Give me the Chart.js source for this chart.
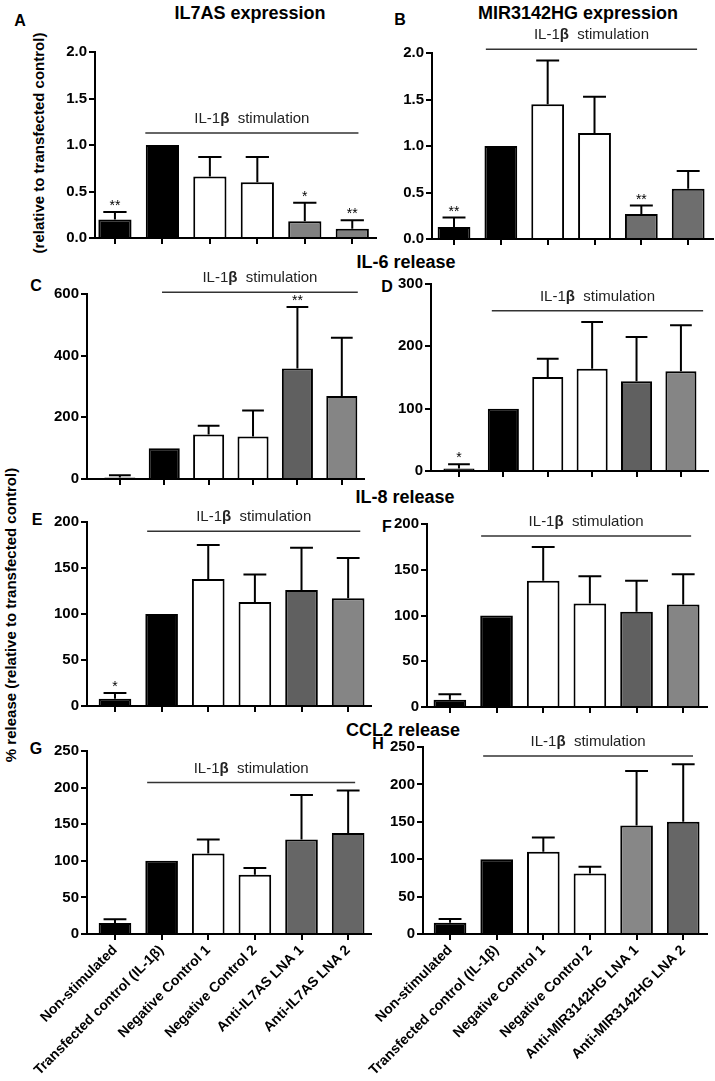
<!DOCTYPE html>
<html>
<head>
<meta charset="utf-8">
<script src="https://cdn.jsdelivr.net/npm/chart.js@4.4.1/dist/chart.umd.min.js"></script>
<style>
  body { margin: 0; background: #fff; width: 715px; height: 1081px; position: relative; overflow: hidden;
         font-family: 'Liberation Sans', Arial, Helvetica, sans-serif; }
  canvas { position: absolute; }
  .t { position: absolute; font-weight: bold; white-space: nowrap; color: #000;
       transform: translate(-50%, -50%); line-height: 1; }
  .rot { transform: translate(-50%, -50%) rotate(-90deg); }
</style>
</head>
<body>
<div class="t" style="left:250px;top:13px;font-size:18px">IL7AS expression</div>
<div class="t" style="left:578px;top:13px;font-size:18px">MIR3142HG expression</div>
<div class="t" style="left:406px;top:262px;font-size:18px">IL-6 release</div>
<div class="t" style="left:405px;top:497px;font-size:18px">IL-8 release</div>
<div class="t" style="left:403px;top:730px;font-size:18px">CCL2 release</div>

<div class="t" style="left:20px;top:21px;font-size:16px">A</div>
<div class="t" style="left:400px;top:20px;font-size:16px">B</div>
<div class="t" style="left:36px;top:286px;font-size:16px">C</div>
<div class="t" style="left:387px;top:287px;font-size:16px">D</div>
<div class="t" style="left:37px;top:520px;font-size:16px">E</div>
<div class="t" style="left:387px;top:527px;font-size:16px">F</div>
<div class="t" style="left:36px;top:749px;font-size:16px">G</div>
<div class="t" style="left:378px;top:744px;font-size:16px">H</div>

<div class="t rot" style="left:38px;top:143px;font-size:15px">(relative to transfected control)</div>
<div class="t rot" style="left:10px;top:615px;font-size:15px">% release (relative to transfected control)</div>

<script>
const fam = "'Liberation Sans', Arial, Helvetica, sans-serif";
Chart.defaults.font.family = fam;
Chart.defaults.color = '#000';

// categories
const groupsIL7AS = ['Non-stimulated', 'Transfected control (IL-1β)', 'Negative Control 1', 'Negative Control 2', 'Anti-IL7AS LNA 1', 'Anti-IL7AS LNA 2'];
const groupsMIR = ['Non-stimulated', 'Transfected control (IL-1β)', 'Negative Control 1', 'Negative Control 2', 'Anti-MIR3142HG LNA 1', 'Anti-MIR3142HG LNA 2'];

// y ticks
const ticksExpr = [0, 0.5, 1.0, 1.5, 2.0];
const ticksC = [0, 200, 400, 600];
const ticksD = [0, 100, 200, 300];
const ticksIL8 = [0, 50, 100, 150, 200];
const ticksCCL2 = [0, 50, 100, 150, 200, 250];

// A - IL7AS expression
const meanA = [0.20, 1.00, 0.66, 0.60, 0.18, 0.10];
const errA = [0.28, null, 0.87, 0.87, 0.38, 0.19];
const starsA = ['**', '', '', '', '*', '**'];
// B - MIR3142HG expression
const meanB = [0.13, 1.00, 1.45, 1.14, 0.27, 0.54];
const errB = [0.23, null, 1.92, 1.53, 0.36, 0.73];
const starsB = ['**', '', '', '', '**', ''];
// C - IL-6 (IL7AS)
const meanC = [5, 100, 144, 138, 358, 269];
const errC = [12, null, 173, 222, 558, 458];
const starsC = ['', '', '', '', '**', ''];
// D - IL-6 (MIR3142HG)
const meanD = [4, 100, 151, 164, 144, 160];
const errD = [11, null, 180, 239, 215, 234];
const starsD = ['*', '', '', '', '', ''];
// E - IL-8 (IL7AS)
const meanE = [8, 100, 138, 113, 126, 117];
const errE = [14, null, 175, 143, 172, 161];
const starsE = ['*', '', '', '', '', ''];
// F - IL-8 (MIR3142HG)
const meanF = [8, 100, 138, 113, 104, 112];
const errF = [14, null, 175, 143, 138, 145];
const starsF = ['', '', '', '', '', ''];
// G - CCL2 (IL7AS)
const meanG = [15, 100, 110, 81, 129, 138];
const errG = [20, null, 129, 90, 190, 196];
const starsG = ['', '', '', '', '', ''];
// H - CCL2 (MIR3142HG)
const meanH = [15, 100, 110, 81, 145, 150];
const errH = [20, null, 129, 90, 218, 227];
const starsH = ['', '', '', '', '', ''];

// IL-1b stimulation bar: [from index, to index, level]
const stimA = [0.64, 5.13, 1.13];
const stimB = [0.68, 5.19, 2.04];
const stimC = [0.95, 5.36, 606];
const stimD = [0.74, 5.5, 257];
const stimE = [0.69, 5.26, 190];
const stimF = [0.67, 5.17, 187];
const stimG = [0.69, 5.15, 207];
const stimH = [0.71, 5.21, 238];

const BLK = '#000000', WHT = '#ffffff', DARK = '#606060', MID = '#858585';

const panels = [
  { id: 'A', labels: groupsIL7AS, means: meanA, errors: errA, stars: starsA, stim: stimA, yTicks: ticksExpr, dec: 1,
    colors: [BLK, BLK, WHT, WHT, '#808080', '#808080'], xMin: -0.42, xMax: 5.5,
    box: { L: 0, T: 40, W: 385, H: 210, axisX: 95, top: 52, bottom: 238, right: 376 }, showLabels: false },
  { id: 'B', labels: groupsMIR, means: meanB, errors: errB, stars: starsB, stim: stimB, yTicks: ticksExpr, dec: 1,
    colors: [BLK, BLK, WHT, WHT, '#6e6e6e', '#6e6e6e'], xMin: -0.47, xMax: 5.53,
    box: { L: 388, T: 22, W: 327, H: 228, axisX: 432, top: 53, bottom: 241, right: 713 }, showLabels: false },
  { id: 'C', labels: groupsIL7AS, means: meanC, errors: errC, stars: starsC, stim: stimC, yTicks: ticksC, dec: 0,
    colors: [BLK, BLK, WHT, WHT, DARK, MID], xMin: -0.74, xMax: 5.5,
    box: { L: 0, T: 265, W: 385, H: 225, axisX: 87, top: 294, bottom: 481, right: 364 }, showLabels: false },
  { id: 'D', labels: groupsMIR, means: meanD, errors: errD, stars: starsD, stim: stimD, yTicks: ticksD, dec: 0,
    colors: [BLK, BLK, WHT, WHT, DARK, MID], xMin: -0.63, xMax: 5.61,
    box: { L: 392, T: 268, W: 323, H: 222, axisX: 431, top: 284, bottom: 471, right: 708 }, showLabels: false },
  { id: 'E', labels: groupsIL7AS, means: meanE, errors: errE, stars: starsE, stim: stimE, yTicks: ticksIL8, dec: 0,
    colors: [BLK, BLK, WHT, WHT, DARK, MID], xMin: -0.6, xMax: 5.49,
    box: { L: 0, T: 505, W: 385, H: 212, axisX: 87, top: 522, bottom: 707, right: 371 }, showLabels: false },
  { id: 'F', labels: groupsMIR, means: meanF, errors: errF, stars: starsF, stim: stimF, yTicks: ticksIL8, dec: 0,
    colors: [BLK, BLK, WHT, WHT, DARK, MID], xMin: -0.49, xMax: 5.51,
    box: { L: 390, T: 508, W: 325, H: 210, axisX: 427, top: 524, bottom: 708, right: 707 }, showLabels: false },
  { id: 'G', labels: groupsIL7AS, means: meanG, errors: errG, stars: starsG, stim: stimG, yTicks: ticksCCL2, dec: 0,
    colors: [BLK, BLK, WHT, WHT, '#666666', '#666666'], xMin: -0.6, xMax: 5.49,
    box: { L: 0, T: 740, W: 380, H: 341, axisX: 87, top: 747, bottom: 934, right: 371 }, showLabels: true },
  { id: 'H', labels: groupsMIR, means: meanH, errors: errH, stars: starsH, stim: stimH, yTicks: ticksCCL2, dec: 0,
    colors: [BLK, BLK, WHT, WHT, '#878787', '#666666'], xMin: -0.58, xMax: 5.51,
    box: { L: 350, T: 730, W: 365, H: 351, axisX: 423, top: 747, bottom: 934, right: 707 }, showLabels: true }
];

// error bars, significance stars and the stimulation bracket
function extras(p) {
  return {
    id: 'extras' + p.id,
    afterDatasetsDraw(chart) {
      const ctx = chart.ctx;
      const meta = chart.getDatasetMeta(0);
      const ys = chart.scales.y, xs = chart.scales.x;
      ctx.save();
      ctx.strokeStyle = '#000';
      ctx.fillStyle = '#000';
      ctx.lineWidth = 2;
      meta.data.forEach((bar, i) => {
        const e = p.errors[i];
        if (e == null) return;
        const yt = ys.getPixelForValue(e);
        const cw = bar.width * 0.7;
        ctx.beginPath();
        ctx.moveTo(bar.x, bar.y);
        ctx.lineTo(bar.x, yt);
        ctx.moveTo(bar.x - cw / 2, yt);
        ctx.lineTo(bar.x + cw / 2, yt);
        ctx.stroke();
      });

      ctx.font = '14px ' + fam;
      ctx.textAlign = 'center';
      ctx.textBaseline = 'alphabetic';
      meta.data.forEach((bar, i) => {
        const s = p.stars[i];
        if (!s) return;
        const top = p.errors[i] != null ? ys.getPixelForValue(p.errors[i]) : bar.y;
        ctx.fillText(s, bar.x, top - 2);
      });

      const [a, b, lv] = p.stim;
      const ly = ys.getPixelForValue(lv);
      const x1 = xs.getPixelForValue(a), x2 = xs.getPixelForValue(b);
      ctx.strokeStyle = '#333';
      ctx.lineWidth = 1.5;
      ctx.beginPath();
      ctx.moveTo(x1, ly);
      ctx.lineTo(x2, ly);
      ctx.stroke();

      const parts = [['IL-1', 'normal'], ['β', 'bold'], ['  stimulation', 'normal']];
      let total = 0;
      parts.forEach(pt => { ctx.font = pt[1] + ' 15px ' + fam; pt.push(ctx.measureText(pt[0]).width); total += pt[2]; });
      let tx = (x1 + x2) / 2 - total / 2;
      ctx.fillStyle = '#222';
      ctx.textAlign = 'left';
      ctx.textBaseline = 'middle';
      parts.forEach(pt => { ctx.font = pt[1] + ' 15px ' + fam; ctx.fillText(pt[0], tx, ly - 14); tx += pt[2]; });
      ctx.restore();
    }
  };
}

function makeChart(p) {
  const b = p.box;
  const c = document.createElement('canvas');
  c.width = b.W;
  c.height = b.H;
  c.style.left = b.L + 'px';
  c.style.top = b.T + 'px';
  document.body.appendChild(c);

  new Chart(c, {
    type: 'bar',
    data: {
      datasets: [{
        data: p.means.map((v, i) => ({ x: i, y: v })),
        backgroundColor: p.colors,
        borderColor: '#000',
        borderWidth: 2,
        borderSkipped: 'start',
        barPercentage: 0.7,
        categoryPercentage: 1
      }]
    },
    options: {
      responsive: false,
      animation: false,
      events: [],
      layout: { padding: { left: 0, top: b.top - b.T, right: b.L + b.W - b.right, bottom: 0 } },
      plugins: { legend: { display: false }, tooltip: { enabled: false } },
      scales: {
        x: {
          type: 'linear',
          bounds: 'data',
          offset: false,
          min: p.xMin,
          max: p.xMax,
          afterBuildTicks: s => { s.ticks = p.labels.map((l, i) => ({ value: i })); },
          afterFit: s => { s.height = b.T + b.H - b.bottom; },
          grid: { offset: false, drawOnChartArea: false, drawTicks: true, tickLength: 6, color: '#000', lineWidth: 2 },
          border: { display: true, color: '#000', width: 2 },
          ticks: {
            display: p.showLabels,
            autoSkip: false,
            minRotation: 45,
            maxRotation: 45,
            padding: 2,
            color: '#000',
            font: { size: 14, weight: 'bold' },
            callback: v => p.labels[v]
          }
        },
        y: {
          bounds: 'data',
          min: 0,
          max: p.yTicks[p.yTicks.length - 1],
          afterBuildTicks: s => { s.ticks = p.yTicks.map(v => ({ value: v })); },
          afterFit: s => { s.width = b.axisX - b.L; },
          grid: { drawOnChartArea: false, tickLength: 6, color: '#000', lineWidth: 2 },
          border: { display: true, color: '#000', width: 2 },
          ticks: { padding: 2, color: '#000', font: { size: 15, weight: 'bold' }, callback: v => Number(v).toFixed(p.dec) }
        }
      }
    },
    plugins: [extras(p)]
  });
}

panels.forEach(makeChart);
</script>
</body>
</html>
